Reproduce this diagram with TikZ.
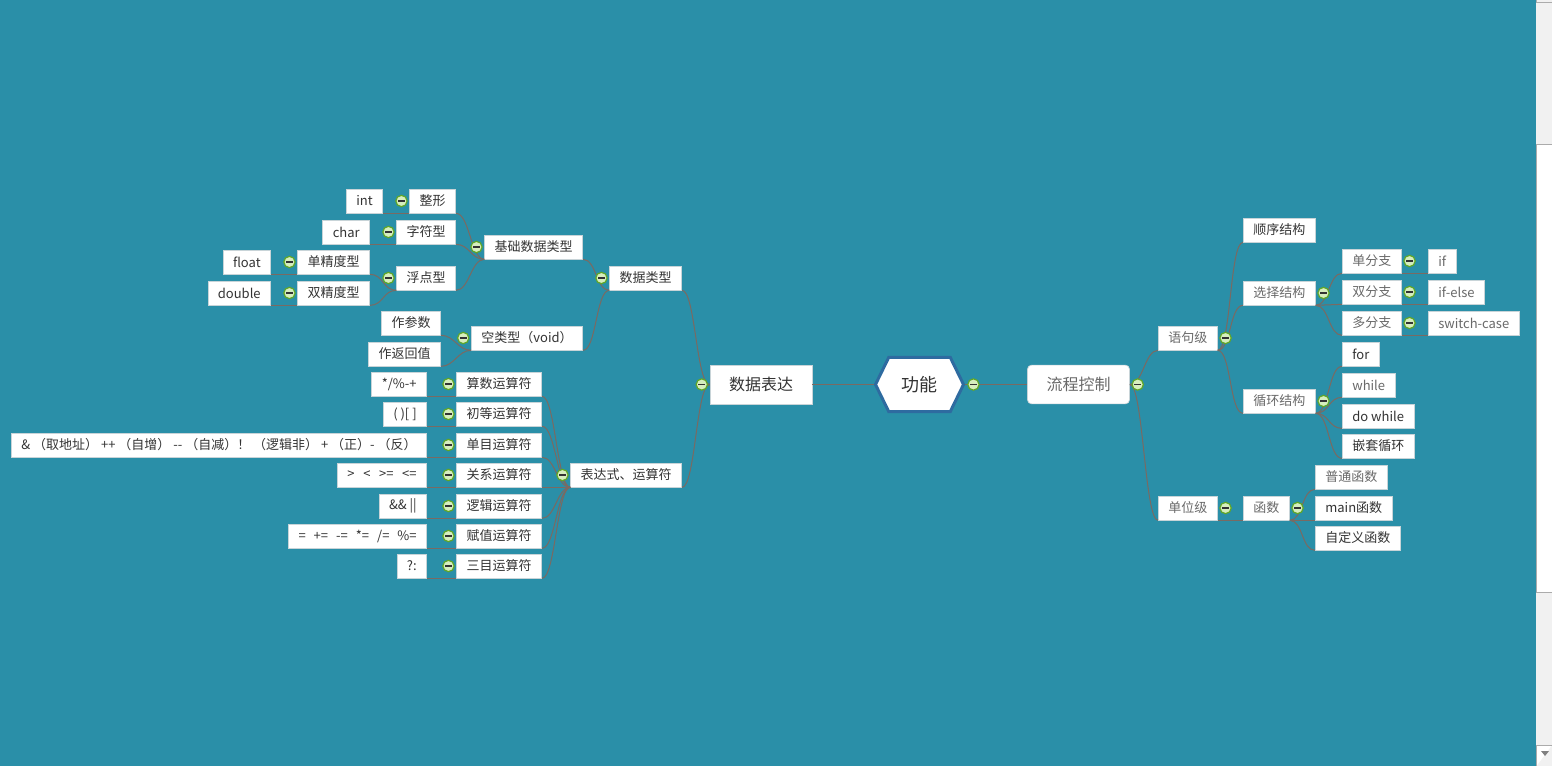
\documentclass[tikz,border=0pt]{standalone}
\usepackage{fontspec}
\setmainfont{Noto Sans CJK SC}
\usetikzlibrary{positioning,shapes.symbols,shadows}

\definecolor{sea}{RGB}{42,143,168}
\definecolor{ink}{RGB}{51,51,51}
\definecolor{inklite}{RGB}{105,105,105}
\definecolor{wire}{RGB}{122,106,98}
\definecolor{rim}{RGB}{200,212,216}
\definecolor{hexrim}{RGB}{46,107,160}
\definecolor{leaf}{RGB}{214,238,190}
\definecolor{leafrim}{RGB}{96,166,40}
\definecolor{track}{RGB}{241,241,241}
\definecolor{trackrim}{RGB}{171,171,171}

\tikzset{
  box/.style={draw=rim, fill=white, text=ink, line width=0.5pt, inner xsep=7.5pt, inner ysep=0pt},
  shade/.style={drop shadow={shadow xshift=0.6pt, shadow yshift=-0.6pt, opacity=0.3, fill=black}},
  topic/.style={box, shade, font=\fontsize{9.75}{11}\selectfont, minimum height=18pt},
  hub/.style={box, font=\fontsize{12}{14}\selectfont, minimum width=76.5pt, minimum height=29pt},
  hexa/.style={signal, signal to=east and west, signal pointer angle=128, draw=hexrim,
    line width=2.25pt, fill=white, text=ink, font=\fontsize{13.5}{15}\selectfont,
    minimum width=66pt, minimum height=40.5pt, inner sep=0pt},
  lite/.style={text=inklite},
  fold/.style={circle, draw=leafrim, fill=leaf, line width=0.9pt, minimum size=8.5pt, inner sep=0pt,
    path picture={\draw[ink, line width=1.1pt] ([xshift=-2.5pt]path picture bounding box.center)
      -- ([xshift=2.5pt]path picture bounding box.center);}},
  twig/.style={draw=wire, line width=0.75pt},
  lbend/.style={to path={.. controls ([xshift=-10pt]\tikztostart) and ([xshift=10pt]\tikztotarget) .. (\tikztotarget)}},
  rbend/.style={to path={.. controls ([xshift=10pt]\tikztostart) and ([xshift=-10pt]\tikztotarget) .. (\tikztotarget)}},
}

\begin{document}
\begin{tikzpicture}[x=0.75pt, y=-0.75pt]
  \useasboundingbox (0,0) rectangle (1552,766);
  \fill[sea] (0,0) rectangle (1536,766);

  % Scroll bar
  \fill[track] (1536,0) rectangle (1552,766);
  \draw[trackrim] (1536.5,0) -- (1536.5,2) -- (1552,2);
  \filldraw[fill=white, draw=trackrim, line width=0.75pt] (1552,145) -- (1536.5,145) -- (1536.5,592) -- (1552,592);
  \filldraw[fill=white, draw=trackrim, line width=0.75pt] (1552,745) -- (1536.5,745) -- (1536.5,766);
  \fill[gray] (1541,751) -- (1549,751) -- (1545,756) -- cycle;

  % Centre
  \node[hexa] (gn) at (919.5,384.5) {功能};
  \node[hub, shade] (sjbd) at (761,384.5) {数据表达};
  \node[hub, rounded corners=3pt, lite] (lckz) at (1078.5,384.5) {流程控制};

  % Data types
  \node[topic, anchor=east] (sjlx) at (682,278) {数据类型};
  \node[topic, anchor=east] (jcsj) at (583,247) {基础数据类型};
  \node[topic, anchor=east] (klx) at (583,338) {空类型（void）};
  \node[topic, anchor=east] (zx) at (456,201) {整形};
  \node[topic, anchor=east] (zfx) at (456,232) {字符型};
  \node[topic, anchor=east] (fdx) at (456,278) {浮点型};
  \node[topic, anchor=east] (int) at (383,201) {int};
  \node[topic, anchor=east] (char) at (370,232) {char};
  \node[topic, anchor=east] (djd) at (370,262) {单精度型};
  \node[topic, anchor=east] (sjd) at (370,293) {双精度型};
  \node[topic, anchor=east] (float) at (271,262) {float};
  \node[topic, anchor=east] (double) at (271,293) {double};
  \node[topic, anchor=east] (zcs) at (441,323) {作参数};
  \node[topic, anchor=east] (zfhz) at (441,354) {作返回值};

  % Operators
  \node[topic, anchor=east] (bds) at (682,475) {表达式、运算符};
  \node[topic, anchor=east] (ss) at (542,384) {算数运算符};
  \node[topic, anchor=east] (cd) at (542,414) {初等运算符};
  \node[topic, anchor=east] (dm) at (542,445) {单目运算符};
  \node[topic, anchor=east] (gx) at (542,475) {关系运算符};
  \node[topic, anchor=east] (lj) at (542,506) {逻辑运算符};
  \node[topic, anchor=east] (fz) at (542,536) {赋值运算符};
  \node[topic, anchor=east] (sm) at (542,566) {三目运算符};
  \node[topic, anchor=east] (ss-x) at (427,384) {*/\%-+};
  \node[topic, anchor=east] (cd-x) at (427,414) {( )[ ]};
  \node[topic, anchor=east] (dm-x) at (427,445) {\& （取地址） ++ （自增） -{}- （自减）！ （逻辑非） + （正）- （反）};
  \node[topic, anchor=east] (gx-x) at (427,475) {>\hspace{6.5pt}<\hspace{6.5pt}>=\hspace{6.5pt}<=};
  \node[topic, anchor=east] (lj-x) at (427,506) {\&\& ||};
  \node[topic, anchor=east] (fz-x) at (427,536) {=\hspace{6pt}+=\hspace{6pt}-=\hspace{6pt}*=\hspace{6pt}/=\hspace{6pt}\%=};
  \node[topic, anchor=east] (sm-x) at (427,566) {?:};

  % Flow control
  \node[topic, anchor=west, lite] (yjj) at (1158,338) {语句级};
  \node[topic, anchor=west, lite] (dwj) at (1158,508) {单位级};
  \node[topic, anchor=west] (sxjg) at (1243,230) {顺序结构};
  \node[topic, anchor=west, lite] (xzjg) at (1243,293) {选择结构};
  \node[topic, anchor=west, lite] (xhjg) at (1243,401) {循环结构};
  \node[topic, anchor=west, lite] (dfz) at (1342,261) {单分支};
  \node[topic, anchor=west, lite] (sfz) at (1342,292) {双分支};
  \node[topic, anchor=west, lite] (dufz) at (1342,323) {多分支};
  \node[topic, anchor=west, lite] (if) at (1428,261) {if};
  \node[topic, anchor=west, lite] (ifelse) at (1428,292) {if-else};
  \node[topic, anchor=west, lite] (switch) at (1428,323) {switch-case};
  \node[topic, anchor=west] (for) at (1342,354) {for};
  \node[topic, anchor=west, lite] (while) at (1342,385) {while};
  \node[topic, anchor=west] (dowhile) at (1342,416) {do while};
  \node[topic, anchor=west] (qtxh) at (1342,446) {嵌套循环};
  \node[topic, anchor=west, lite] (hs) at (1243,508) {函数};
  \node[topic, anchor=west, lite] (pths) at (1315,477) {普通函数};
  \node[topic, anchor=west] (mainhs) at (1315,508) {main函数};
  \node[topic, anchor=west] (zdyhs) at (1315,538) {自定义函数};

  % Branches, left
  \draw[twig] (gn.west) -- (sjbd.east);
  \draw[twig] (sjbd.west) to[lbend] (sjlx.south east);
  \draw[twig] (sjbd.west) to[lbend] (bds.south east);
  \draw[twig] (sjlx.south west) to[lbend] (jcsj.south east);
  \draw[twig] (sjlx.south west) to[lbend] (klx.south east);
  \draw[twig] (jcsj.south west) to[lbend] (zx.south east);
  \draw[twig] (jcsj.south west) to[lbend] (zfx.south east);
  \draw[twig] (jcsj.south west) to[lbend] (fdx.south east);
  \draw[twig] (zx.south west) -- (int.south east);
  \draw[twig] (zfx.south west) -- (char.south east);
  \draw[twig] (fdx.south west) to[lbend] (djd.south east);
  \draw[twig] (fdx.south west) to[lbend] (sjd.south east);
  \draw[twig] (djd.south west) -- (float.south east);
  \draw[twig] (sjd.south west) -- (double.south east);
  \draw[twig] (klx.south west) to[lbend] (zcs.south east);
  \draw[twig] (klx.south west) to[lbend] (zfhz.south east);
  \draw[twig] (bds.south west) to[lbend] (ss.south east);
  \draw[twig] (bds.south west) to[lbend] (cd.south east);
  \draw[twig] (bds.south west) to[lbend] (dm.south east);
  \draw[twig] (bds.south west) to[lbend] (gx.south east);
  \draw[twig] (bds.south west) to[lbend] (lj.south east);
  \draw[twig] (bds.south west) to[lbend] (fz.south east);
  \draw[twig] (bds.south west) to[lbend] (sm.south east);
  \draw[twig] (ss.south west) -- (ss-x.south east);
  \draw[twig] (cd.south west) -- (cd-x.south east);
  \draw[twig] (dm.south west) -- (dm-x.south east);
  \draw[twig] (gx.south west) -- (gx-x.south east);
  \draw[twig] (lj.south west) -- (lj-x.south east);
  \draw[twig] (fz.south west) -- (fz-x.south east);
  \draw[twig] (sm.south west) -- (sm-x.south east);

  % Branches, right
  \draw[twig] (gn.east) -- (lckz.west);
  \draw[twig] (lckz.east) to[rbend] (yjj.south west);
  \draw[twig] (lckz.east) to[rbend] (dwj.south west);
  \draw[twig] (yjj.south east) to[rbend] (sxjg.south west);
  \draw[twig] (yjj.south east) to[rbend] (xzjg.south west);
  \draw[twig] (yjj.south east) to[rbend] (xhjg.south west);
  \draw[twig] (xzjg.south east) to[rbend] (dfz.south west);
  \draw[twig] (xzjg.south east) to[rbend] (sfz.south west);
  \draw[twig] (xzjg.south east) to[rbend] (dufz.south west);
  \draw[twig] (dfz.south east) -- (if.south west);
  \draw[twig] (sfz.south east) -- (ifelse.south west);
  \draw[twig] (dufz.south east) -- (switch.south west);
  \draw[twig] (xhjg.south east) to[rbend] (for.south west);
  \draw[twig] (xhjg.south east) to[rbend] (while.south west);
  \draw[twig] (xhjg.south east) to[rbend] (dowhile.south west);
  \draw[twig] (xhjg.south east) to[rbend] (qtxh.south west);
  \draw[twig] (dwj.south east) -- (hs.south west);
  \draw[twig] (hs.south east) to[rbend] (pths.south west);
  \draw[twig] (hs.south east) to[rbend] (mainhs.south west);
  \draw[twig] (hs.south east) to[rbend] (zdyhs.south west);

  % Fold markers
  \node[fold, right=1.5pt of gn] (gn-f) {};
  \node[fold, left=1.2pt of sjbd] (sjbd-f) {};
  \node[fold, right=1.2pt of lckz] (lckz-f) {};
  \node[fold, left=1.2pt of sjlx] (sjlx-f) {};
  \node[fold, left=1.2pt of bds] (bds-f) {};
  \node[fold, left=1.2pt of jcsj] (jcsj-f) {};
  \node[fold, left=1.2pt of klx] (klx-f) {};
  \node[fold, left=1.2pt of zx] (zx-f) {};
  \node[fold, left=1.2pt of zfx] (zfx-f) {};
  \node[fold, left=1.2pt of fdx] (fdx-f) {};
  \node[fold, left=1.2pt of djd] (djd-f) {};
  \node[fold, left=1.2pt of sjd] (sjd-f) {};
  \node[fold, left=1.2pt of ss] (ss-f) {};
  \node[fold, left=1.2pt of cd] (cd-f) {};
  \node[fold, left=1.2pt of dm] (dm-f) {};
  \node[fold, left=1.2pt of gx] (gx-f) {};
  \node[fold, left=1.2pt of lj] (lj-f) {};
  \node[fold, left=1.2pt of fz] (fz-f) {};
  \node[fold, left=1.2pt of sm] (sm-f) {};
  \node[fold, right=1.2pt of yjj] (yjj-f) {};
  \node[fold, right=1.2pt of dwj] (dwj-f) {};
  \node[fold, right=1.2pt of xzjg] (xzjg-f) {};
  \node[fold, right=1.2pt of xhjg] (xhjg-f) {};
  \node[fold, right=1.2pt of dfz] (dfz-f) {};
  \node[fold, right=1.2pt of sfz] (sfz-f) {};
  \node[fold, right=1.2pt of dufz] (dufz-f) {};
  \node[fold, right=1.2pt of hs] (hs-f) {};
\end{tikzpicture}
\end{document}
